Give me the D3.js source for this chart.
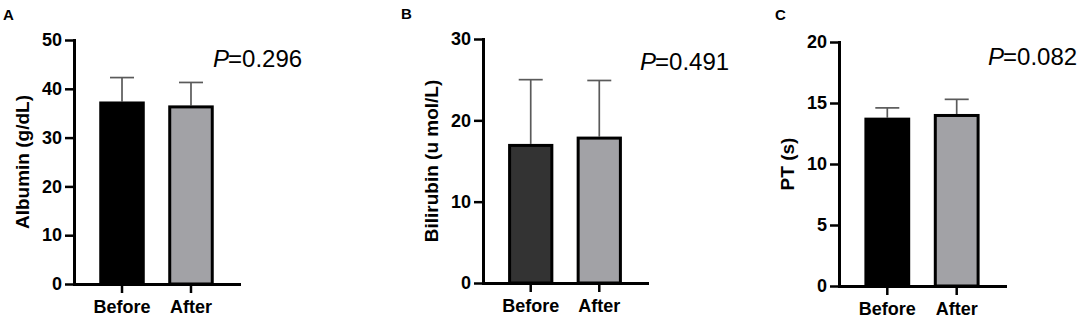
<!DOCTYPE html>
<html>
<head>
<meta charset="utf-8">
<script src="https://cdn.jsdelivr.net/npm/d3@7"></script>
<style>
  body { margin: 0; background: white; }
  svg { display: block; }
  text { font-family: Arial, "Liberation Sans", sans-serif; }
</style>
</head>
<body>
<div id="container"></div>
<script>
let w = 1084;
let h = 327;

// DATA
let groups = ["Before", "After"];
let albuminMean = [37.4, 36.6];
let albuminSD = [4.9, 4.7];
let bilirubinMean = [17.1, 18.0];
let bilirubinSD = [7.9, 6.9];
let ptMean = [13.8, 14.1];
let ptSD = [0.8, 1.2];
let albuminTicks = [0, 10, 20, 30, 40, 50];
let bilirubinTicks = [0, 10, 20, 30];
let ptTicks = [0, 5, 10, 15, 20];
let panelLetters = ["A", "B", "C"];
let yLabels = ["Albumin (g/dL)", "Bilirubin (u mol/L)", "PT (s)"];
let pValues = ["0.296", "0.491", "0.082"];

// layout of each panel
let panels = [
  { mean: albuminMean, sd: albuminSD, ticks: albuminTicks, x0: 74, x1: 239, y0: 40, y1: 284,
    letterX: 3, letterY: 20, pX: 213, pY: 67, beforeFill: "#000" },
  { mean: bilirubinMean, sd: bilirubinSD, ticks: bilirubinTicks, x0: 483, x1: 647, y0: 39, y1: 283,
    letterX: 401, letterY: 19, pX: 640, pY: 70, beforeFill: "#333" },
  { mean: ptMean, sd: ptSD, ticks: ptTicks, x0: 839, x1: 1005, y0: 42, y1: 286,
    letterX: 775, letterY: 20, pX: 988, pY: 65, beforeFill: "#000" }
];

let viz = d3.select("#container").append("svg")
  .attr("width", w)
  .attr("height", h)
  .style("background-color", "white");

panels.forEach((p, i) => {
  let g = viz.append("g");

  let yScale = d3.scaleLinear()
    .domain([0, d3.max(p.ticks)])
    .range([p.y1, p.y0]);

  let xScale = d3.scaleBand()
    .domain(groups)
    .range([p.x0, p.x1])
    .paddingInner(0.34)
    .paddingOuter(0.366);

  let bw = xScale.bandwidth();

  // error bars (upper only), drawn first so the bar covers the stem
  let errData = groups.map((k, j) => ({ k: k, m: p.mean[j], s: p.sd[j] }));
  g.selectAll(".err").data(errData).enter()
    .append("line")
    .attr("class", "err")
    .attr("x1", d => xScale(d.k) + bw / 2)
    .attr("x2", d => xScale(d.k) + bw / 2)
    .attr("y1", d => yScale(d.m))
    .attr("y2", d => yScale(d.m + d.s))
    .attr("stroke", "#5a5a5a")
    .attr("stroke-width", 1.7);

  g.selectAll(".cap").data(errData).enter()
    .append("line")
    .attr("class", "cap")
    .attr("x1", d => xScale(d.k) + bw / 2 - 12)
    .attr("x2", d => xScale(d.k) + bw / 2 + 12)
    .attr("y1", d => yScale(d.m + d.s))
    .attr("y2", d => yScale(d.m + d.s))
    .attr("stroke", "#5a5a5a")
    .attr("stroke-width", 1.7);

  // bars
  g.selectAll(".bar").data(errData).enter()
    .append("rect")
    .attr("class", "bar")
    .attr("x", d => xScale(d.k) + 1.5)
    .attr("width", bw - 3)
    .attr("y", d => yScale(d.m) + 1.5)
    .attr("height", d => yScale(0) - yScale(d.m) - 1.5)
    .attr("fill", (d, j) => j == 0 ? p.beforeFill : "#a2a2a6")
    .attr("stroke", "#000")
    .attr("stroke-width", 3);

  // y axis
  let yAxis = g.append("g")
    .attr("transform", "translate(" + p.x0 + ",0)")
    .call(d3.axisLeft(yScale).tickValues(p.ticks).tickSize(9).tickSizeOuter(0).tickPadding(3));

  // x axis
  let xAxis = g.append("g")
    .attr("transform", "translate(0," + p.y1 + ")")
    .call(d3.axisBottom(xScale).tickSize(9).tickSizeOuter(0).tickPadding(7));

  [yAxis, xAxis].forEach(ax => {
    ax.select(".domain").attr("stroke", "#000").attr("stroke-width", 3).attr("stroke-linecap", "square");
    ax.selectAll(".tick line").attr("stroke", "#000").attr("stroke-width", 2.5);
    ax.selectAll(".tick text")
      .attr("fill", "#000")
      .style("font-size", "18px")
      .style("font-weight", "bold")
      .style("font-family", "Arial, 'Liberation Sans', sans-serif");
  });

  // y label
  g.append("text")
    .attr("transform", "translate(" + (p.x0 - 52) + "," + ((p.y0 + p.y1) / 2) + ") rotate(-90)")
    .attr("text-anchor", "middle")
    .attr("dy", "0.35em")
    .style("font-size", "19px")
    .style("font-weight", "bold")
    .text(yLabels[i]);

  // panel letter
  g.append("text")
    .attr("x", p.letterX)
    .attr("y", p.letterY)
    .style("font-size", "15px")
    .style("font-weight", "bold")
    .text(panelLetters[i]);

  // p value
  let pt = g.append("text")
    .attr("x", p.pX)
    .attr("y", p.pY)
    .style("font-size", "24px");
  pt.append("tspan").style("font-style", "italic").text("P");
  pt.append("tspan").attr("dx", -1).text("=" + pValues[i]);
});
</script>
</body>
</html>
